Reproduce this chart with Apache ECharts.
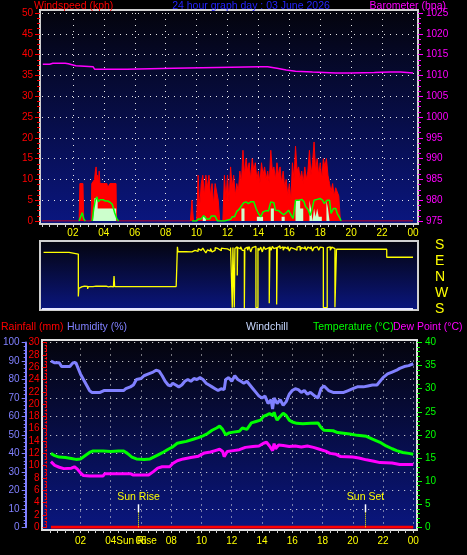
<!DOCTYPE html>
<html><head><meta charset="utf-8">
<script src="https://cdn.jsdelivr.net/npm/echarts@6/dist/echarts.min.js"></script>
<style>html,body{margin:0;padding:0;background:#000;}#c{width:467px;height:555px;}</style>
</head><body><div id="c"></div>
<script>
// ---------- DATA (hour of day, value) ----------
const windGust = [[0,0],[2.4,0],[2.45,9],[2.65,9],[2.7,0],[3.18,0],[3.22,9],[3.3,9],[3.4,10],[3.45,12],[3.5,13],[3.55,10],[3.6,11],[3.65,9],[3.7,12],[3.75,9],[3.8,9],[4.0,9],[4.2,9],[4.25,8],[4.35,8],[4.4,9],[4.6,9],[4.79,9],[4.82,0],
[9.6,0],[9.7,5],[9.8,0],[10.0,0],[10.1,11],[10.2,3],[10.3,9],[10.4,11],[10.5,6],[10.6,11],[10.7,8],[10.8,11],[10.9,6],[11.0,9],[11.1,4],[11.2,9],[11.3,9],[11.4,5],[11.5,0],[11.7,0],[11.8,11],[11.9,5],[12.0,11],[12.1,4],[12.2,13],[12.3,8],[12.4,11],[12.5,6],[12.6,9],[12.7,7],[12.8,12],[12.9,9],[13.0,17],[13.1,11],[13.2,15],[13.3,12],[13.4,14],[13.5,10],[13.6,15],[13.7,12],[13.8,14],[13.9,10],[14.0,12],[14.1,9],[14.2,14],[14.3,11],[14.4,13],[14.5,10],[14.6,12],[14.7,9],[14.8,17],[14.9,12],[15.0,13],[15.1,10],[15.2,14],[15.3,11],[15.4,13],[15.5,9],[15.6,12],[15.7,8],[15.8,10],[15.9,6],[16.0,9],[16.1,5],[16.2,14],[16.3,10],[16.4,18],[16.5,12],[16.6,13],[16.7,10],[16.8,12],[16.9,9],[17.0,13],[17.1,10],[17.2,12],[17.3,17],[17.4,11],[17.5,14],[17.6,19],[17.7,12],[17.8,15],[17.9,11],[18.0,14],[18.1,10],[18.2,15],[18.3,13],[18.4,15],[18.5,11],[18.6,9],[18.7,7],[18.8,9],[18.9,6],[19.0,8],[19.1,7],[19.2,6],[19.3,0],[24,0]];

const windLow = [[3.3,0],[3.4,5.5],[3.6,3],[4.8,0],[10.4,1],[10.6,0],[12.9,3],[13.1,0],[13.9,1],[14.3,0],[14.8,3],[15.0,0],[15.5,1],[15.7,0],[16.4,5],[16.7,3],[16.9,0],[17.3,5],[17.4,3],[17.5,0],[17.6,3],[17.7,1],[17.8,3],[17.9,1],[18.1,0],[18.4,5],[18.5,3],[18.6,0]];

const windAvg = [[2.4,0],[2.5,1],[2.6,2],[2.7,0.5],[2.8,0],[3.0,'-'],[3.25,0],[3.35,3],[3.45,5],[3.55,5.8],[3.65,4.6],[3.75,5.1],[3.85,5.2],[3.95,5.1],[4.1,4.8],[4.25,4.8],[4.4,4.5],[4.55,4.0],[4.7,2],[4.85,0.5],[4.95,0],[7.0,'-'],
[9.7,0],[10.0,0],[10.1,0.5],[10.3,0.5],[10.45,1.3],[10.55,1.3],[10.65,0.5],[10.85,0.5],[10.95,1.2],[11.2,1.2],[11.35,0],[11.8,0],[11.9,0.4],[12.2,0.4],[12.3,1],[12.45,1],[12.6,2.3],[12.75,2.8],[12.9,3.6],[13.05,4.4],[13.2,4.6],[13.35,4.2],[13.5,4.6],[13.7,4.6],[13.85,3.0],[14.0,1.8],[14.15,1.0],[14.3,2.2],[14.5,2.5],[14.65,2.4],[14.8,4.6],[15.0,4.4],[15.1,2.6],[15.3,2.5],[15.45,2.0],[15.65,1.5],[15.8,2.0],[15.95,2.6],[16.1,1.5],[16.25,0.6],[16.4,5.0],[16.6,5.0],[16.8,5.2],[16.95,4.6],[17.05,3.5],[17.2,2.8],[17.35,1.3],[17.45,2.5],[17.6,5.0],[17.8,5.2],[18.0,5.4],[18.15,5.0],[18.25,4.2],[18.35,4.4],[18.45,5.0],[18.6,5.0],[18.7,1.8],[18.85,3.0],[19.0,3.0],[19.1,1.8],[19.25,0.8],[19.35,0]];

const barometer = [[0.05,1012.7],[0.5,1012.9],[0.7,1013.1],[0.8,1012.9],[1.5,1012.8],[1.7,1012.5],[2.0,1012.3],[2.2,1012.1],[3.3,1011.9],[3.4,1011.5],[5.5,1011.5],[5.6,1011.7],[8.5,1011.7],[8.6,1011.9],[11.3,1011.9],[11.4,1012.1],[14.1,1012.1],[14.6,1011.7],[15.2,1011.3],[15.8,1011.0],[16.4,1010.8],[17.5,1010.6],[19.0,1010.6],[20.0,1010.7],[21.5,1010.8],[22.5,1010.8],[23.2,1010.6],[24.0,1010.7]];

// compass degrees
const windDir = [[0.1,139],[1.75,129],[2.35,250],[2.38,296],[2.45,306],[2.6,308],[2.75,305],[2.85,307],[2.95,293],[3.0,306],[3.15,306],[3.3,311],[3.4,309],[3.5,306],[3.6,308],[3.75,305],[3.85,308],[3.95,306],[4.05,309],[4.15,305],[4.3,307],[4.45,306],[4.55,304],[4.62,308],[4.66,6],[4.7,306],[8.68,306],[8.72,58],[8.76,170],[8.8,142],[9.3,141],
[9.7,146],[9.8,150],[9.9,148],[10.0,144],[10.1,158],[10.2,150],[10.3,151],[10.4,162],[10.5,148],[10.6,136],[10.7,152],[10.8,145],[10.9,160],[11.0,141],[11.1,150],[11.2,165],[11.3,159],[11.4,161],[11.5,148],[11.6,162],[11.7,160],[11.8,165],[11.9,158],[12.0,163],[12.1,148],[12.2,166],[12.31,187],[12.35,166],[12.44,188],[12.48,160],[12.55,170],[12.63,8],[12.66,166],[12.75,158],[12.85,170],[12.95,150],[13.09,186],[13.12,160],[13.2,168],[13.3,150],[13.4,171],[13.5,141],[13.6,165],[13.7,172],[13.84,188],[13.97,162],[14.05,150],[14.15,168],[14.25,141],[14.35,170],[14.45,155],[14.55,166],[14.7,212],[14.74,170],[14.82,150],[14.9,172],[15.0,160],[15.08,165],[15.18,205],[15.22,165],[15.3,175],[15.4,160],[15.5,170],[15.6,150],[15.7,168],[15.8,158],[15.9,172],[16.0,146],[16.1,165],[16.2,160],[16.3,170],[16.4,151],[16.5,168],[16.6,172],[16.7,149],[16.8,165],[16.9,160],[17.0,172],[17.1,150],[17.2,168],[17.3,160],[17.4,172],[17.5,146],[17.6,165],[17.7,170],[17.8,160],[17.9,151],[18.0,168],[18.1,165],[18.2,188],[18.45,165],[18.55,170],[18.65,150],[18.75,168],[18.85,160],[18.95,190],[19.0,352],[19.05,156],[22.3,111],[24,111]];

const humidity = [[0.05,90],[0.3,89],[0.6,89],[0.75,87],[1.0,87],[1.3,87],[1.5,89],[1.7,89],[1.85,86],[2.0,83],[2.2,80],[2.4,77],[2.6,74],[2.75,73],[3.0,73],[3.3,73],[3.55,74],[4.0,74],[4.5,74],[4.85,74],[5.0,75],[5.3,76],[5.5,77],[5.7,80],[6.0,80.5],[6.2,82],[6.5,83],[6.8,84],[7.0,85],[7.2,84.5],[7.4,82],[7.6,79],[7.8,77],[7.95,76.5],[8.1,78],[8.3,77],[8.5,76],[8.7,77],[8.9,79],[9.1,80],[9.3,79],[9.5,80.5],[9.7,80],[9.9,81],[10.1,80],[10.3,78],[10.5,77],[10.7,76],[10.9,75],[11.1,74],[11.3,75],[11.5,74.5],[11.6,80],[11.8,81],[12.0,79],[12.2,82],[12.4,80],[12.6,79],[12.8,78],[13.0,79],[13.2,77],[13.4,75],[13.6,73],[13.8,71],[14.0,70],[14.2,71],[14.4,67],[14.6,69],[14.7,64],[14.8,70],[15.0,67],[15.2,69],[15.4,66],[15.6,68],[15.8,72],[16.0,74],[16.2,75],[16.4,74.5],[16.6,73],[16.8,74],[17.0,72],[17.2,73],[17.5,71],[17.7,70],[17.9,75],[18.1,76.5],[18.4,74],[18.7,73],[19.0,73],[19.4,73],[19.7,74],[20.0,75],[20.3,76],[20.7,76],[21.0,76.5],[21.3,77],[21.6,77],[21.8,79],[22.0,81],[22.3,83],[22.6,84],[22.9,85],[23.1,86],[23.4,87],[23.7,87.5],[24.0,88.5]];

const temperature = [[0.05,16],[0.3,15.5],[0.6,15.2],[1.0,15.1],[1.4,14.9],[1.7,14.7],[2.0,14.8],[2.3,15.5],[2.6,16.2],[2.8,16.5],[3.5,16.5],[4.0,16.4],[4.5,16.5],[4.86,16.5],[5.1,16],[5.4,15.2],[5.7,14.8],[6.2,14.7],[6.6,14.8],[6.9,15.3],[7.2,15.8],[7.5,16.3],[7.8,16.9],[8.1,17.4],[8.4,18.2],[8.7,18.4],[9.0,18.6],[9.4,19],[9.8,19.4],[10.1,19.8],[10.4,20.3],[10.7,21.0],[11.0,21.5],[11.2,21.9],[11.4,21.2],[11.6,20],[11.8,20.4],[12.1,20.6],[12.5,20.8],[12.7,21.5],[13.0,21.2],[13.3,22.6],[13.6,22.9],[13.9,23.2],[14.1,24.0],[14.3,24.3],[14.5,24.6],[14.7,24.2],[14.8,24.9],[14.9,23.9],[15.0,23.2],[15.2,24.0],[15.4,24.7],[15.6,24.2],[15.8,23.2],[16.0,22.8],[16.3,22.5],[16.7,22.4],[17.2,22.5],[17.7,22.6],[17.9,21.6],[18.1,21],[18.7,20.9],[19.0,20.5],[19.8,20.2],[20.3,19.9],[20.9,19.7],[21.3,19.1],[21.8,18.4],[22.2,17.6],[22.6,17.0],[22.9,16.6],[23.3,16.2],[23.7,16.0],[24.0,15.8]];

const dewPoint = [[0.05,14.2],[0.3,13.4],[0.6,13],[0.9,12.7],[1.4,12.8],[1.6,13.1],[1.8,12.6],[2.0,11.8],[2.2,11.2],[2.6,11.1],[3.5,11.1],[3.6,11.6],[4.5,11.6],[5.3,11.6],[5.5,11.3],[6.5,11.3],[6.8,12],[7.1,12.8],[7.4,13.1],[7.9,13.1],[8.1,13.8],[8.4,14.4],[8.8,14.8],[9.3,15.1],[9.8,15.4],[10.2,16.1],[10.6,16.3],[10.9,16.6],[11.2,16.9],[11.4,16.4],[11.5,15.3],[11.7,16.4],[12.1,16.6],[12.5,16.8],[12.9,17.3],[13.4,17.5],[13.8,17.6],[14.1,18.2],[14.3,18.4],[14.5,17.6],[14.6,18],[14.7,16.6],[14.8,18.1],[14.9,17],[15.1,17.8],[15.4,17.7],[15.8,17.5],[16.2,17.6],[16.6,17.4],[17.0,17.6],[17.4,17.3],[17.8,16.9],[18.2,16.5],[18.5,16.0],[18.9,15.8],[19.2,15.3],[20.0,15.2],[20.4,15.0],[20.9,14.6],[21.4,14.3],[21.8,14.0],[22.6,13.9],[23.1,13.6],[24.0,13.6]];

const rainfall = [[0.05,0],[24,0]];

const sunRiseHour = 5.79;
const sunSetHour = 20.8;
const dirLabels = {'180':'S','90':'E','0':'N','-90':'W','-180':'S'};

// ---------- CHART ----------
const FONT = 'Liberation Sans';
const chart = echarts.init(document.getElementById('c'));
const pad = v => String(v % 24).padStart(2,'0');
const plain = v => String(v);
const bg = () => new echarts.graphic.LinearGradient(0,0,0,1,[{offset:0,color:'#04040c'},{offset:1,color:'#0a1680'}]);
const dots = {show:true, showMinLine:false, lineStyle:{color:'#e6e6e6', width:1, type:[1,5]}};
const noSplit = {show:false};

function xAx(grid, showLab, offset, margin){
  return {type:'value', gridIndex:grid, min:0, max:24, interval:2, offset:offset,
    axisLine:{show:false, onZero:false},
    axisTick:{show:showLab, length:3, lineStyle:{color:'#d0d0d0'}},
    minorTick:{show:showLab, splitNumber:4, length:3, lineStyle:{color:'#d0d0d0'}},
    axisLabel:{show:showLab, showMinLabel:false, color:'#ffff00', fontSize:10, fontFamily:FONT, margin:margin, formatter:pad},
    splitLine: showLab ? dots : noSplit};
}
function yAx(o){
  const base = {type:'value', splitLine:noSplit};
  const r = Object.assign(base, o);
  r.axisLine = Object.assign({show:false}, o.axisLine || {}, {onZero:false});
  r.axisLabel = Object.assign({formatter:plain}, o.axisLabel || {});
  return r;
}

const dirPlot = windDir.map(([h,d]) => [h, d > 180 ? d - 360 : d]);

const frames = [
  {id:'f0', type:'rect', z:-10, shape:{x:40,y:10,width:378,height:214}, style:{fill:bg(), stroke:'#d0d0d0', lineWidth:2}},
  {id:'f1', type:'rect', z:-10, shape:{x:40,y:241,width:378,height:69}, style:{fill:bg(), stroke:'#d0d0d0', lineWidth:2}},
  {id:'f2', type:'rect', z:-10, shape:{x:42,y:340,width:375,height:190}, style:{fill:bg(), stroke:'#e0e0e0', lineWidth:2}}
];
const txt = (id,x,y,t,c,align) => ({id:id, type:'text', x:x, y:y, style:{text:t, fill:c, font:'10.5px "'+FONT+'"', textAlign:align||'left', textVerticalAlign:'middle'}});
const texts = [
  txt('t1',34,6,'Windspeed (kph)','#ff0000'),
  txt('t2',251,6,'24 hour graph day : 03 June 2026','#2424ff','center'),
  txt('t3',446,6,'Barometer (hpa)','#ff00ff','right'),
  txt('t4',1,327,'Rainfall (mm)','#ff0000'),
  txt('t5',67,327,'Humidity (%)','#8080ff'),
  txt('t6',246,327,'Windchill','#c8d8ff'),
  txt('t7',313,327,'Temperature (°C)','#00ff00'),
  txt('t8',393,327,'Dew Point (°C)','#ff00ff')
];

chart.setOption({
  backgroundColor:'#000000',
  animation:false,
  textStyle:{fontFamily:FONT},
  grid:[
    {left:42, top:13, width:371, height:208},
    {left:42, top:245, width:371, height:64},
    {left:45.5, top:342.5, width:367.8, height:184.8}
  ],
  xAxis:[ xAx(0,true,3,4), xAx(1,false,0,4), xAx(2,true,2.7,6) ],
  yAxis:[
    yAx({gridIndex:0, position:'left', offset:2, min:0, max:50, interval:5,
      axisTick:{show:true,length:5,lineStyle:{color:'#ff0000'}}, minorTick:{show:true,splitNumber:4,length:3,lineStyle:{color:'#ff0000'}},
      axisLabel:{color:'#ff0000',fontSize:10,margin:7,fontFamily:FONT}, splitLine:dots}),
    yAx({gridIndex:0, position:'right', offset:5, min:975, max:1025, interval:5,
      axisTick:{show:true,length:5,lineStyle:{color:'#ff00ff'}}, minorTick:{show:true,splitNumber:4,length:3,lineStyle:{color:'#ff00ff'}},
      axisLabel:{color:'#ff00ff',fontSize:10,margin:8,fontFamily:FONT}}),
    yAx({gridIndex:1, position:'right', offset:5, min:-180, max:180, interval:90,
      axisTick:{show:false},
      axisLabel:{color:'#ffff00',fontSize:14,margin:17,fontFamily:FONT, formatter:v=>dirLabels[String(v)]}}),
    yAx({gridIndex:2, position:'left', offset:24.5, min:0, max:100, interval:10,
      axisLine:{show:true,lineStyle:{color:'#8080ff',width:2}},
      axisTick:{show:true,length:4,lineStyle:{color:'#8080ff'}}, minorTick:{show:true,splitNumber:5,length:2,lineStyle:{color:'#8080ff'}},
      axisLabel:{color:'#8080ff',fontSize:10,margin:6,fontFamily:FONT}, splitLine:dots}),
    yAx({gridIndex:2, position:'left', offset:3.5, min:0, max:30, interval:2,
      axisLine:{show:true,lineStyle:{color:'#ff0000',width:1,type:[2,2]}},
      axisTick:{show:true,length:4,lineStyle:{color:'#ff0000'}}, minorTick:{show:true,splitNumber:4,length:2,lineStyle:{color:'#ff0000'}},
      axisLabel:{color:'#ff0000',fontSize:10,margin:7,fontFamily:FONT}}),
    yAx({gridIndex:2, position:'right', offset:3.7, min:0, max:40, interval:5,
      axisTick:{show:true,length:5,lineStyle:{color:'#00ff00'}}, minorTick:{show:true,splitNumber:5,length:3,lineStyle:{color:'#00ff00'}},
      axisLabel:{color:'#00ff00',fontSize:10,margin:8,fontFamily:FONT}})
  ],
  series:[
    {name:'Gust', type:'line', xAxisIndex:0, yAxisIndex:0, data:windGust, showSymbol:false, symbol:'none',
      lineStyle:{color:'#ff0000',width:1}, areaStyle:{color:'#ff0000',opacity:1}, z:2},
    {name:'Low', type:'line', step:'end', xAxisIndex:0, yAxisIndex:0, data:windLow, symbol:'none',
      lineStyle:{width:0,opacity:0}, areaStyle:{color:'#ccffcc',opacity:1}, z:3},
    {name:'Average', type:'line', xAxisIndex:0, yAxisIndex:0, data:windAvg, symbol:'none', connectNulls:false,
      lineStyle:{color:'#00ff00',width:1.5}, z:4},
    {name:'Barometer', type:'line', step:'end', xAxisIndex:0, yAxisIndex:1, data:barometer, symbol:'none',
      lineStyle:{color:'#ff00ff',width:1.5}, z:4},
    {name:'Direction', type:'line', step:'end', xAxisIndex:1, yAxisIndex:2, data:dirPlot, symbol:'none',
      lineStyle:{color:'#ffff00',width:1.3}, z:4,
      markLine:{silent:true, symbol:'none', label:{show:false}, lineStyle:{color:'#e8e8ff',width:2,type:'solid'}, data:[{yAxis:-180}]}},
    {name:'Humidity', type:'line', xAxisIndex:2, yAxisIndex:3, data:humidity, symbol:'none',
      lineStyle:{color:'#8080ff',width:3}, z:4},
    {name:'Temperature', type:'line', xAxisIndex:2, yAxisIndex:5, data:temperature, symbol:'none',
      lineStyle:{color:'#00ff00',width:3}, z:4},
    {name:'Dew Point', type:'line', xAxisIndex:2, yAxisIndex:5, data:dewPoint, symbol:'none',
      lineStyle:{color:'#ff00ff',width:3}, z:4},
    {name:'Rainfall', type:'line', xAxisIndex:2, yAxisIndex:4, data:rainfall, symbol:'none',
      lineStyle:{color:'#ff0000',width:3}, z:5}
  ],
  graphic:{elements: frames.concat(texts)}
});

// sunrise / sunset annotations placed through the axes
const y0 = chart.convertToPixel({yAxisIndex:4}, 0);
function sunMarks(id, hour, label, dup){
  const x = Math.round(chart.convertToPixel({xAxisIndex:2}, hour)) + 0.5;
  const els = [
    {id:id+'a', type:'line', z:10, shape:{x1:x,y1:y0-23,x2:x,y2:y0-15}, style:{stroke:'#ffffff',lineWidth:1.5}},
    {id:id+'b', type:'line', z:10, shape:{x1:x,y1:y0-15,x2:x,y2:y0}, style:{stroke:'#ffff00',lineWidth:1,lineDash:[1,1]}},
    {id:id+'c', type:'text', z:10, x:x, y:y0-30, style:{text:label, fill:'#ffff00', font:'10.5px "'+FONT+'"', textAlign:'center', textVerticalAlign:'middle'}}
  ];
  if (dup) els.push({id:id+'d', type:'text', z:10, x:x-2, y:y0+14, style:{text:label, fill:'#ffff00', font:'10px "'+FONT+'"', textAlign:'center', textVerticalAlign:'middle'}});
  return els;
}
chart.setOption({graphic:{elements: frames.concat(texts, sunMarks('sr', sunRiseHour, 'Sun Rise', true), sunMarks('ss', sunSetHour, 'Sun Set', false))}});
</script></body></html>
